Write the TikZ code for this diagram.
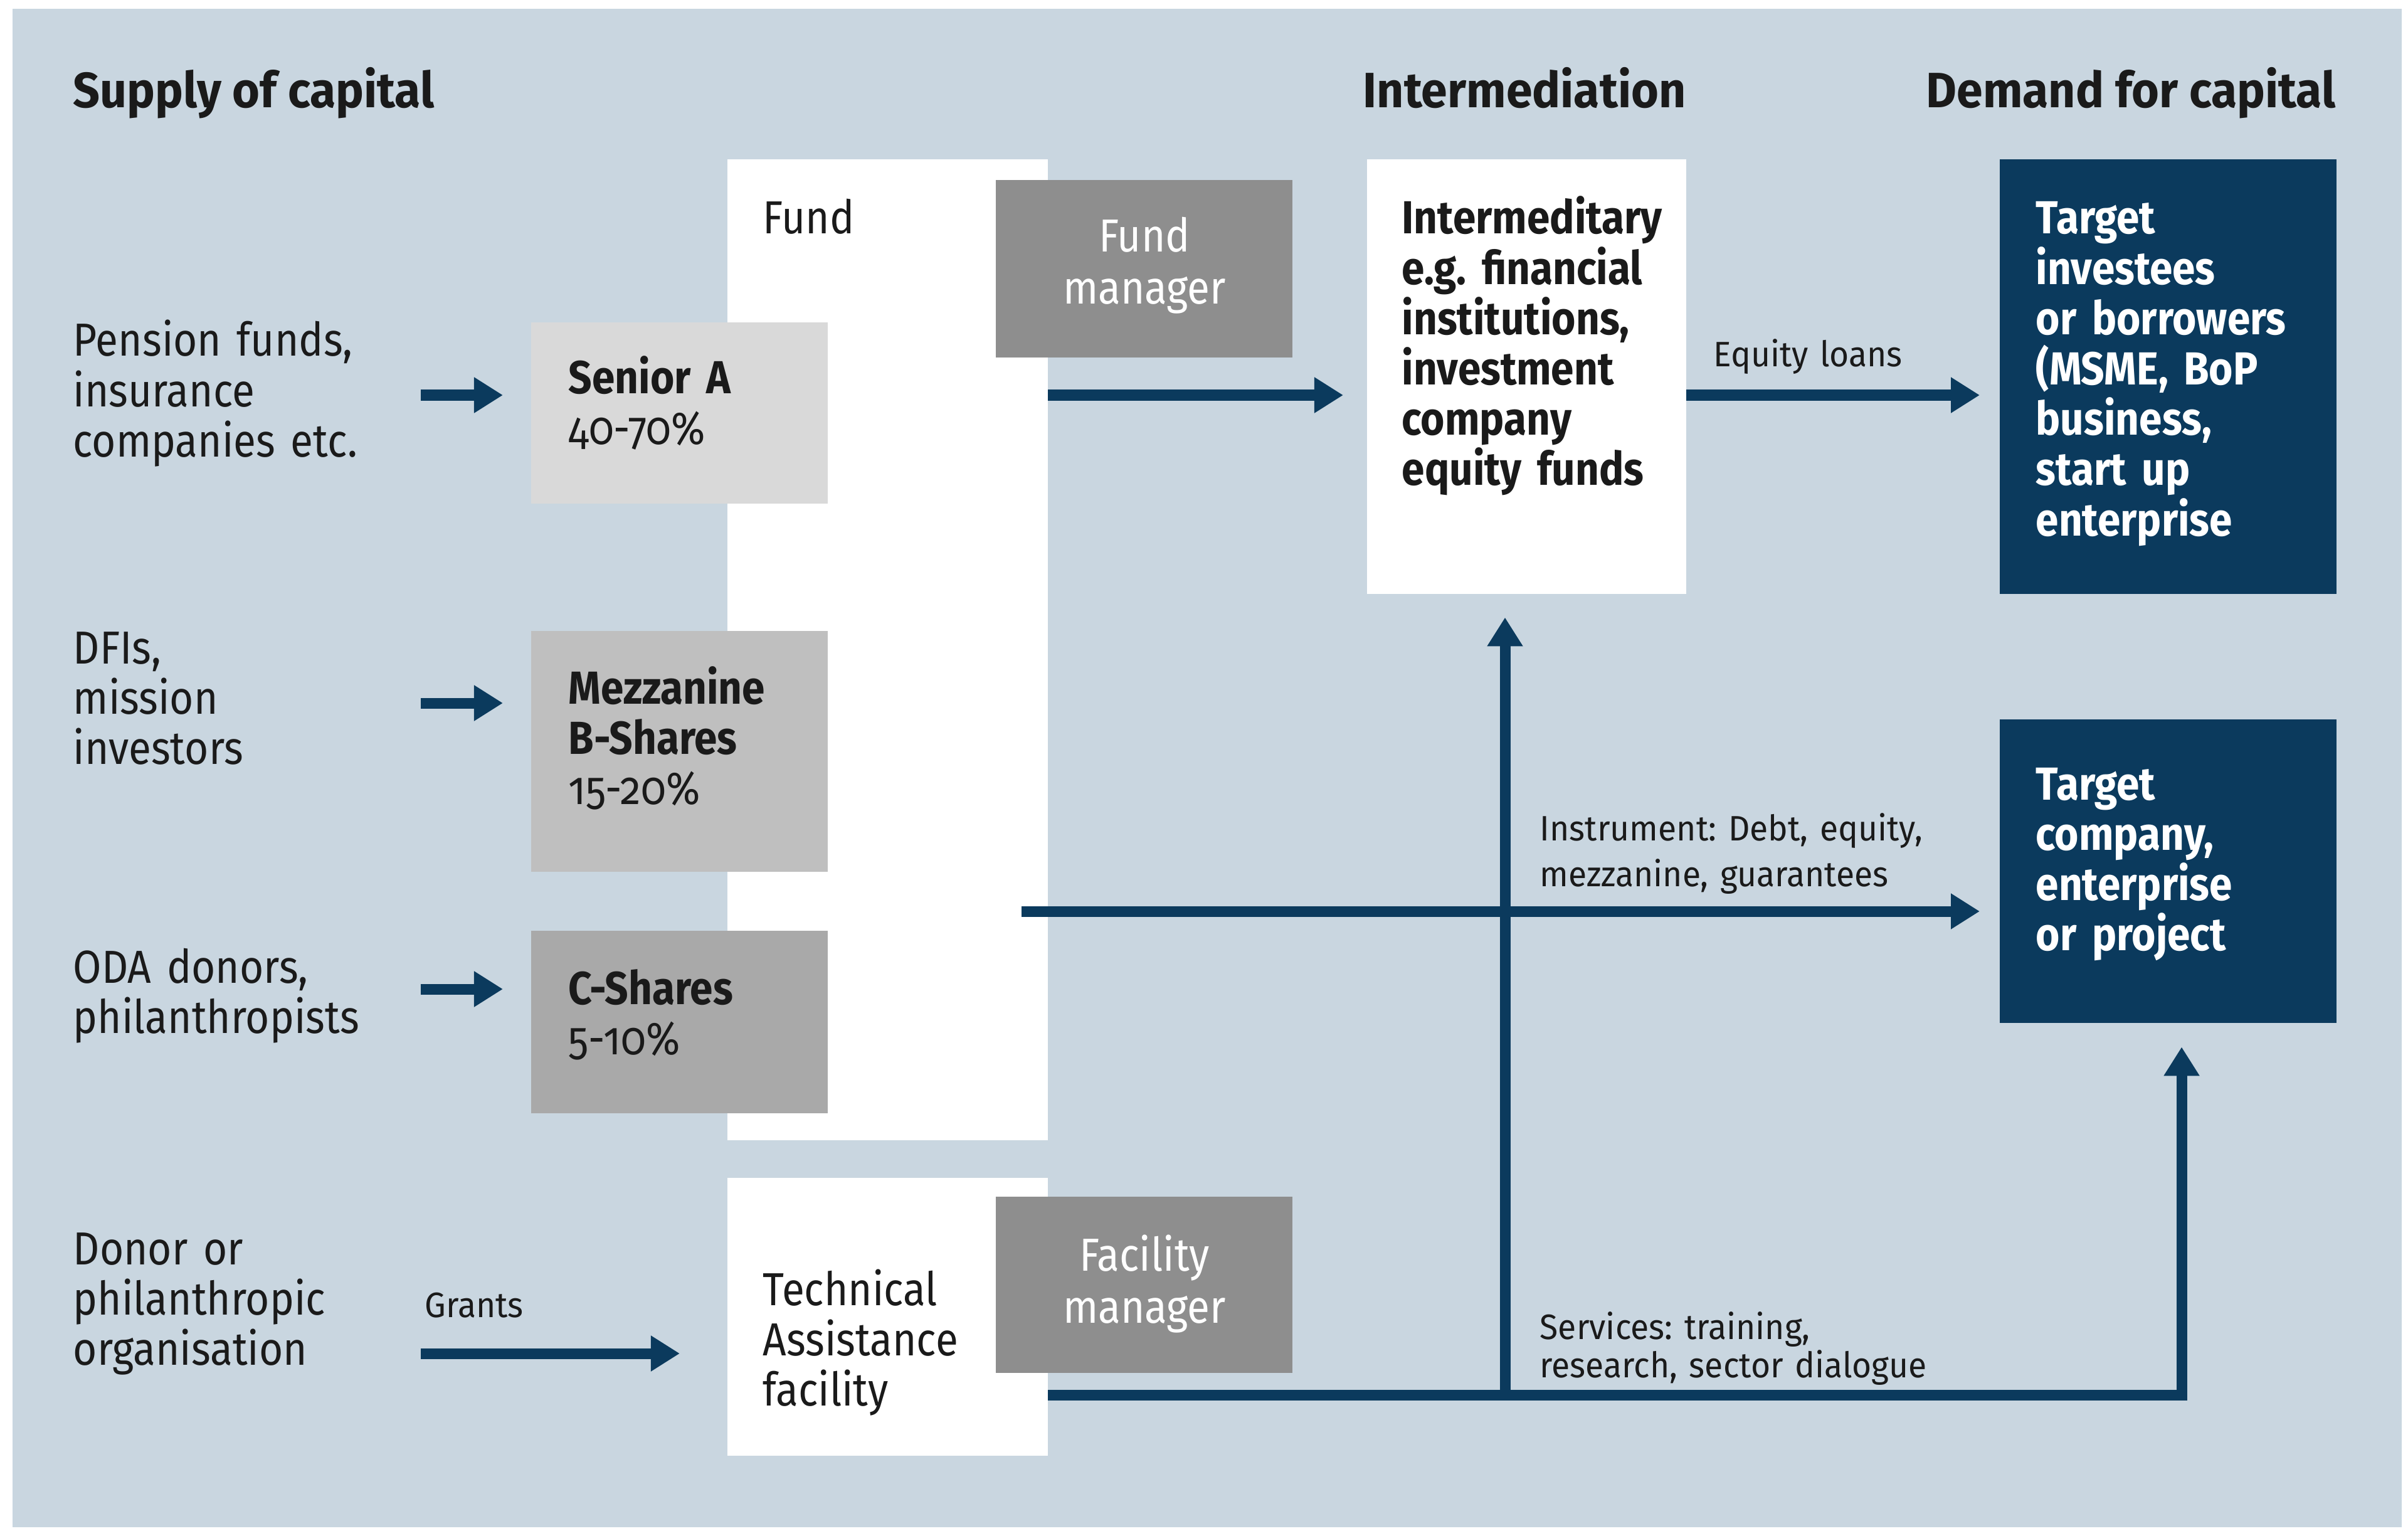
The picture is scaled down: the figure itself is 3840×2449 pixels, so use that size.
\documentclass[tikz,border=0pt]{standalone}
\usepackage{fontspec}
\setmainfont{Fira Sans}[FakeStretch=0.89]
\newfontfamily\oldnum{Fira Sans}[FakeStretch=0.89,Numbers=OldStyle]
\newfontfamily\widefont{Fira Sans}[FakeStretch=0.95]
\frenchspacing
\usetikzlibrary{arrows.meta}
\definecolor{bgc}{HTML}{C9D6E0}
\definecolor{navy}{HTML}{0B3A5D}
\definecolor{txt}{HTML}{1A1A1A}
\definecolor{gA}{HTML}{D9D9D9}
\definecolor{gB}{HTML}{BFBFBF}
\definecolor{gC}{HTML}{A9A9A9}
\definecolor{gM}{HTML}{8E8E8E}
\begin{document}
\begin{tikzpicture}[x=0.01cm,y=-0.01cm,
  box/.style={rectangle,inner sep=0,outer sep=0,anchor=north west,draw=none},
  head/.style={anchor=base west,inner sep=0,text=txt,font=\widefont\fontsize{22.5}{26}\selectfont\bfseries},
  lbl/.style={anchor=base west,inner sep=0,text width=6cm,align=left,text=txt,font=\fontsize{21}{22.8}\selectfont},
  blbl/.style={lbl,font=\fontsize{21}{22.8}\selectfont\bfseries},
  wlbl/.style={anchor=base,inner sep=0,text width=4.7cm,align=center,text=white,font=\fontsize{21}{23.6}\selectfont},
  tlbl/.style={anchor=base west,inner sep=0,text width=5cm,align=left,text=white,font=\fontsize{21}{22.8}\selectfont\bfseries},
  small/.style={anchor=base west,inner sep=0,text width=7cm,align=left,text=txt,font=\widefont\fontsize{16}{21}\selectfont},
  arr/.style={draw=navy,line width=0.17cm,line cap=butt,line join=miter,-{Triangle[length=0.46cm,width=0.54cm]}}]
\useasboundingbox (0,0) rectangle (3840,2449);
\fill[bgc] (20,14) rectangle (3830,2435);
% boxes
\node[box,fill=white,minimum width=5.11cm,minimum height=15.63cm] (fund) at (1160,254) {};
\node[box,fill=gM,minimum width=4.73cm,minimum height=2.83cm] (fundmgr) at (1588,287) {};
\node[box,fill=gA,minimum width=4.73cm,minimum height=2.89cm] (senior) at (847,514) {};
\node[box,fill=gB,minimum width=4.73cm,minimum height=3.84cm] (mezz) at (847,1006) {};
\node[box,fill=gC,minimum width=4.73cm,minimum height=2.91cm] (cshares) at (847,1484) {};
\node[box,fill=white,minimum width=5.11cm,minimum height=4.43cm] (ta) at (1160,1878) {};
\node[box,fill=gM,minimum width=4.73cm,minimum height=2.81cm] (facmgr) at (1588,1908) {};
\node[box,fill=white,minimum width=5.09cm,minimum height=6.93cm] (inter) at (2180,254) {};
\node[box,fill=navy,minimum width=5.37cm,minimum height=6.93cm] (tinv) at (3189,254) {};
\node[box,fill=navy,minimum width=5.37cm,minimum height=4.84cm] (tcomp) at (3189,1147) {};
% headings
\node[head] (h1) at (116,172) {Supply of capital};
\node[head] (h2) at (2173,172) {Intermediation};
\node[head] (h3) at (3071,172) {Demand for capital};
% left labels
\node[lbl] (pension) at (116,568) {Pension funds,\\insurance\\companies etc.};
\node[lbl] (dfi) at (116,1058) {DFIs,\\mission\\investors};
\node[lbl] (oda) at (116,1567) {ODA donors,\\philanthropists};
\node[lbl] (donor) at (116,2016) {Donor or\\philanthropic\\organisation};
\node[small] (grants) at (677,2100) {Grants};
% fund contents
\node[lbl] (fundT) at (1216,373) {Fund};
\node[wlbl] (fundmgrT) at (1825,402) {Fund\\manager};
\node[lbl] (seniorT) at (906,628) {\textbf{Senior A}\\{\oldnum 40-70\%}};
\node[lbl] (mezzT) at (906,1122) {\textbf{Mezzanine}\\\textbf{B-Shares}\\{\oldnum 15-20\%}};
\node[lbl] (csharesT) at (906,1601) {\textbf{C-Shares}\\{\oldnum 5-10\%}};
\node[lbl] (taT) at (1216,2081) {Technical\\Assistance\\facility};
\node[wlbl] (facmgrT) at (1825,2026) {Facility\\manager};
% intermediary and targets
\node[blbl,text width=5cm] (interT) at (2235,373) {Intermeditary\\e.g. financial\\institutions,\\investment\\company\\equity funds};
\node[tlbl] (tinvT) at (3246,373) {Target\\investees\\or borrowers\\(MSME, BoP\\business,\\start up\\enterprise};
\node[tlbl] (tcompT) at (3246,1275) {Target\\company,\\enterprise\\or project};
% connector labels
\node[small] (eqT) at (2732,584) {Equity loans};
\node[small] (instT) at (2455,1340) {Instrument: Debt, equity,\\mezzanine, guarantees};
\node[small,font=\widefont\fontsize{16}{17.4}\selectfont] (servT) at (2455,2135) {Services: training,\\research, sector dialogue};
% connectors
\coordinate (a1) at (671,630);
\coordinate (a2) at (671,1121);
\coordinate (a3) at (671,1577);
\coordinate (a4) at (671,2158);
\draw[arr,shorten >=0.45cm] (a1) -- (senior.west |- a1);
\draw[arr,shorten >=0.45cm] (a2) -- (mezz.west |- a2);
\draw[arr,shorten >=0.45cm] (a3) -- (cshares.west |- a3);
\draw[arr,shorten >=0.76cm] (a4) -- (ta.west |- a4);
\draw[arr,shorten >=0.38cm] (fund.east |- a1) -- (inter.west |- a1);
\draw[arr,shorten >=0.32cm] (inter.east |- a1) -- (tinv.west |- a1);
\coordinate (iy) at (1629,1453);
\draw[arr,shorten >=0.32cm] (iy) -- (tcomp.west |- iy);
\coordinate (sc) at (3479,2224);
\coordinate (vx) at (2400,2224);
\draw[arr,shorten >=0.38cm] (ta.east |- sc) -- (sc) -- (sc |- tcomp.south);
\draw[arr,shorten >=0.37cm] (vx) -- (vx |- inter.south);
\end{tikzpicture}
\end{document}
